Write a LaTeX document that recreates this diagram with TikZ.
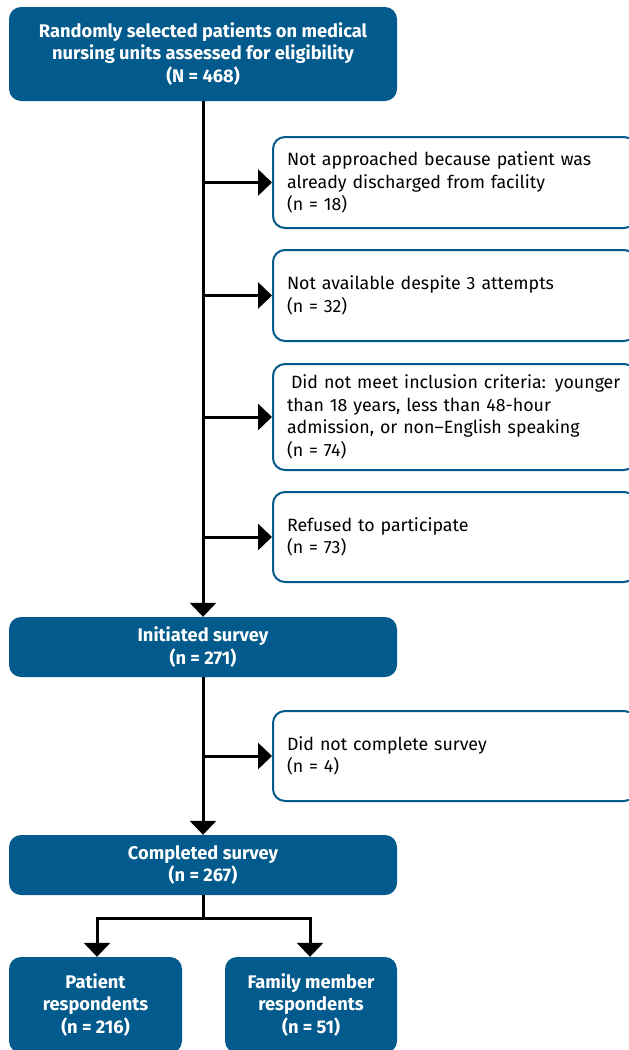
\documentclass[tikz,border=0pt]{standalone}
\usepackage{fontspec}
\setmainfont{Fira Sans}
\usetikzlibrary{arrows.meta}
\definecolor{flowblue}{HTML}{035A8D}

\tikzset{
    mainbox/.style={fill=flowblue, rounded corners=12pt, text=white,
        font=\bfseries\fontsize{18.3}{22.5}\selectfont, align=center,
        minimum width=388pt, inner sep=0pt},
    sidebox/.style={draw=flowblue, line width=2pt, fill=white, rounded corners=12pt,
        text width=335pt, inner xsep=14pt, inner ysep=0pt, align=left, anchor=west,
        font=\fontsize{17.8}{22.5}\selectfont},
    flow/.style={-{Triangle[width=26pt,length=14pt]}, line width=3pt}
}

\begin{document}
\begin{tikzpicture}[x=1pt, y=-1pt]
    \useasboundingbox (0,0) rectangle (629,1050);

    \node[mainbox, minimum height=94pt](assessed)    at (203,54)
        {Randomly selected patients on medical\\nursing units assessed for eligibility\\(N = 468)};
    \node[mainbox, minimum height=60pt](initiated)   at (203,647) {Initiated survey\\(n = 271)};
    \node[mainbox, minimum height=60pt](completed)   at (203,865) {Completed survey\\(n = 267)};
    \node[mainbox, minimum width=173pt, minimum height=96pt](patients) at (95.5,1005)
        {Patient\\respondents\\(n = 216)};
    \node[mainbox, minimum width=172pt, minimum height=96pt](family)   at (311,1005)
        {Family member\\respondents\\(n = 51)};

    \node[sidebox, minimum height=91pt](discharged)  at (272,182.5)
        {Not approached because patient was\\already discharged from facility\\(n = 18)};
    \node[sidebox, minimum height=91pt](unavailable) at (272,295.5)
        {Not available despite 3 attempts\\(n = 32)};
    \node[sidebox, minimum height=106pt](excluded)   at (272,417)
        {\hspace{4pt}Did not meet inclusion criteria: younger\\than 18 years, less than 48-hour\\admission, or non–English speaking\\(n = 74)};
    \node[sidebox, minimum height=90pt](refused)     at (272,537)
        {Refused to participate\\(n = 73)};
    \node[sidebox, minimum height=90pt](incomplete)  at (272,756)
        {Did not complete survey\\(n = 4)};

    \coordinate (split) at (203,918);

    \draw[flow] (assessed.south) -- (initiated.north);
    \foreach \side in {discharged, unavailable, excluded, refused}
        \draw[flow] (assessed.south |- \side.west) -- (\side.west);
    \draw[flow] (initiated.south) -- (completed.north);
    \draw[flow] (initiated.south |- incomplete.west) -- (incomplete.west);
    \draw[line width=3pt] (completed.south) -- (split);
    \draw[flow] (split) -| ([xshift=1.5pt]patients.north);
    \draw[flow] (split) -| ([xshift=-1pt]family.north);
\end{tikzpicture}
\end{document}
